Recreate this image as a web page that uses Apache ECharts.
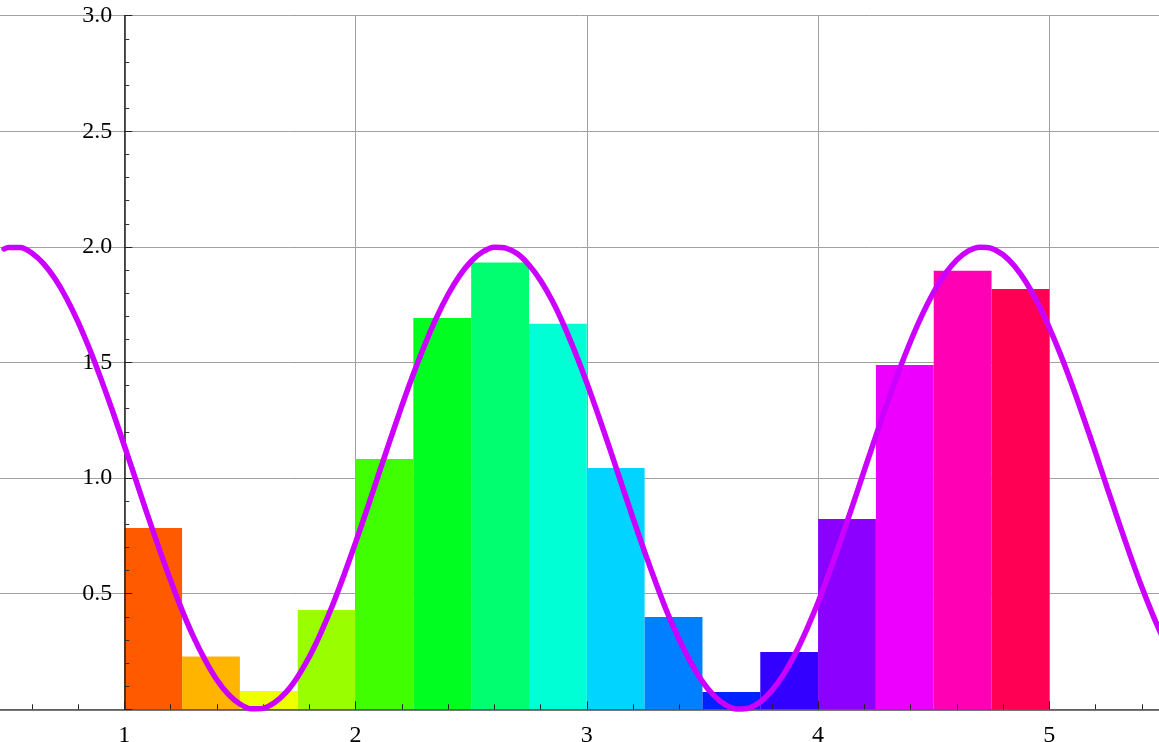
<!DOCTYPE html>
<html>
<head>
<meta charset="utf-8">
<script src="https://cdn.jsdelivr.net/npm/echarts@6/dist/echarts.min.js"></script>
<style>
  html, body { margin: 0; padding: 0; background: #ffffff; }
  #chart { width: 1159px; height: 742px; }
</style>
</head>
<body>
<div id="chart"></div>
<script>
// Histogram bins (edges) and their heights
const binEdges = [1.0, 1.25, 1.5, 1.75, 2.0, 2.25, 2.5, 2.75, 3.0, 3.25, 3.5, 3.75, 4.0, 4.25, 4.5, 4.75, 5.0];
const binHeights = [0.784, 0.228, 0.079, 0.430, 1.083, 1.692, 1.932, 1.668,
                    1.044, 0.399, 0.075, 0.248, 0.823, 1.489, 1.897, 1.818];

// Rainbow fill, one colour per bin
const barColors = ['#ff5a00', '#ffb400', '#eeff00', '#99ff00', '#40ff00', '#00ff20', '#00ff70', '#00ffd4',
                   '#00d4ff', '#0080ff', '#0022ff', '#3300ff', '#8c00ff', '#ee00ff', '#ff00b4', '#ff0055'];

// Overlaid smooth curve samples
const curveX = [0.48, 0.50, 0.55, 0.60, 0.65, 0.70, 0.75, 0.80, 0.85, 0.90, 0.95,
                1.00, 1.05, 1.10, 1.15, 1.20, 1.25, 1.30, 1.35, 1.40, 1.45, 1.50, 1.55, 1.60, 1.65, 1.70, 1.75, 1.80, 1.85, 1.90, 1.95,
                2.00, 2.05, 2.10, 2.15, 2.20, 2.25, 2.30, 2.35, 2.40, 2.45, 2.50, 2.55, 2.60, 2.65, 2.70, 2.75, 2.80, 2.85, 2.90, 2.95,
                3.00, 3.05, 3.10, 3.15, 3.20, 3.25, 3.30, 3.35, 3.40, 3.45, 3.50, 3.55, 3.60, 3.65, 3.70, 3.75, 3.80, 3.85, 3.90, 3.95,
                4.00, 4.05, 4.10, 4.15, 4.20, 4.25, 4.30, 4.35, 4.40, 4.45, 4.50, 4.55, 4.60, 4.65, 4.70, 4.75, 4.80, 4.85, 4.90, 4.95,
                5.00, 5.05, 5.10, 5.15, 5.20, 5.25, 5.30, 5.35, 5.40, 5.45, 5.50];
const curveY = [1.991, 1.997, 1.997, 1.974, 1.929, 1.863, 1.778, 1.676, 1.558, 1.427, 1.288,
                1.141, 0.992, 0.842, 0.697, 0.558, 0.428, 0.312, 0.212, 0.128, 0.065, 0.023, 0.002, 0.004, 0.029, 0.074, 0.141, 0.227, 0.331, 0.449, 0.581,
                0.721, 0.867, 1.017, 1.166, 1.312, 1.450, 1.578, 1.694, 1.794, 1.876, 1.938, 1.979, 1.999, 1.995, 1.970, 1.922, 1.855, 1.768, 1.663, 1.543,
                1.412, 1.271, 1.125, 0.975, 0.826, 0.681, 0.543, 0.413, 0.300, 0.202, 0.120, 0.059, 0.019, 0.001, 0.005, 0.032, 0.081, 0.150, 0.238, 0.344,
                0.463, 0.596, 0.737, 0.884, 1.034, 1.183, 1.328, 1.465, 1.592, 1.706, 1.804, 1.884, 1.944, 1.983, 1.999, 1.994, 1.966, 1.916, 1.846, 1.757,
                1.650, 1.530, 1.397, 1.255, 1.109, 0.958, 0.810, 0.665, 0.528, 0.402, 0.288];

// Tick labels shown on each axis
const xTickLabels = ['1', '2', '3', '4', '5'];
const yTickLabels = ['0.5', '1.0', '1.5', '2.0', '2.5', '3.0'];

const barData = binHeights.map((h, i) => [binEdges[i], binEdges[i + 1], h]);
const curveData = curveX.map((x, i) => [x, curveY[i]]);

const labelFont = { color: '#000000', fontFamily: 'Liberation Serif', fontSize: 24 };
const X_MIN = 0, X_MAX = 5.5, Y_MIN = 0, Y_MAX = 3;
const Y_AXIS_OFFSET = -231.3; // vertical axis sits at x = 1

const chart = echarts.init(document.getElementById('chart'), null, { renderer: 'canvas' });

chart.setOption({
  animation: false,
  backgroundColor: '#ffffff',
  grid: { left: -107, right: -6, top: 15.7, bottom: 32.7, containLabel: false, outerBoundsMode: 'none' },
  xAxis: [
    // gridlines layer (behind the bars)
    {
      type: 'value', min: X_MIN, max: X_MAX, interval: 1, z: 0,
      axisLine: { show: false }, axisTick: { show: false }, axisLabel: { show: false },
      splitLine: { show: true, lineStyle: { color: '#a0a0a0', width: 1 } }
    },
    // axis line, ticks and labels (in front of the bars)
    {
      type: 'value', min: X_MIN, max: X_MAX, interval: 1, position: 'bottom', offset: 0, z: 10,
      axisLine: { show: true, onZero: false, lineStyle: { color: '#4a4a4a', width: 1.5 } },
      axisTick: { show: true, inside: true, length: 8, lineStyle: { color: '#222222', width: 1 } },
      minorTick: { show: true, splitNumber: 5, length: 5, lineStyle: { color: '#222222', width: 1 } },
      axisLabel: {
        ...labelFont, margin: 14, showMinLabel: false, showMaxLabel: false,
        formatter: v => xTickLabels.includes(String(v)) ? String(v) : ''
      },
      splitLine: { show: false }
    }
  ],
  yAxis: [
    {
      type: 'value', min: Y_MIN, max: Y_MAX, interval: 0.5, z: 0,
      axisLine: { show: false }, axisTick: { show: false }, axisLabel: { show: false },
      splitLine: { show: true, lineStyle: { color: '#a0a0a0', width: 1 } }
    },
    {
      type: 'value', min: Y_MIN, max: Y_MAX, interval: 0.5, position: 'left', offset: Y_AXIS_OFFSET, z: 10,
      axisLine: { show: true, onZero: false, lineStyle: { color: '#222222', width: 1.5 } },
      axisTick: { show: true, inside: true, length: 8, lineStyle: { color: '#222222', width: 1 } },
      minorTick: { show: true, splitNumber: 5, length: 5, lineStyle: { color: '#333333', width: 1 } },
      axisLabel: {
        ...labelFont, margin: 12, showMinLabel: false,
        formatter: v => { const s = v.toFixed(1); return yTickLabels.includes(s) ? s : ''; }
      },
      splitLine: { show: false }
    }
  ],
  series: [
    {
      type: 'custom',
      xAxisIndex: 0, yAxisIndex: 0, z: 2,
      data: barData,
      renderItem: (params, api) => {
        const topLeft = api.coord([api.value(0), api.value(2)]);
        const bottomRight = api.coord([api.value(1), 0]);
        return {
          type: 'rect',
          shape: {
            x: topLeft[0], y: topLeft[1],
            width: bottomRight[0] - topLeft[0], height: bottomRight[1] - topLeft[1]
          },
          style: { fill: barColors[params.dataIndex] }
        };
      }
    },
    {
      type: 'line',
      xAxisIndex: 0, yAxisIndex: 0, z: 20,
      data: curveData,
      smooth: 0.3,
      showSymbol: false,
      clip: false,
      lineStyle: { color: '#cc00ff', width: 5.5, cap: 'round' }
    }
  ]
});
</script>
</body>
</html>
